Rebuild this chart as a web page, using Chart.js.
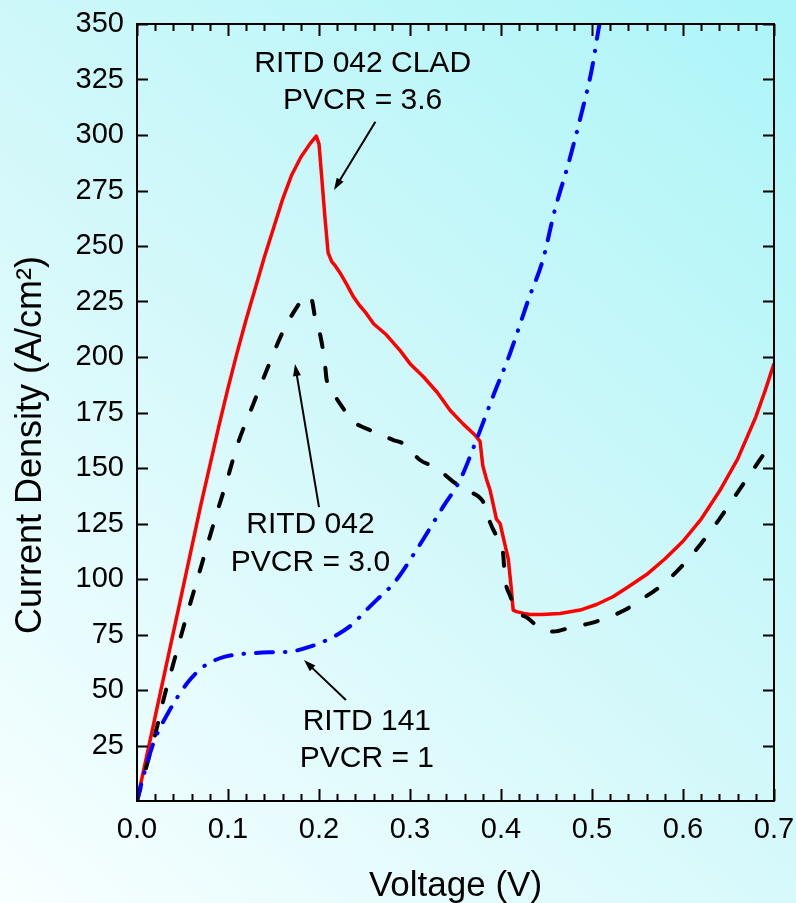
<!DOCTYPE html>
<html>
<head>
<meta charset="utf-8">
<script src="https://cdn.jsdelivr.net/npm/chart.js@4.4.1/dist/chart.umd.min.js"></script>
<style>
  html, body { margin: 0; padding: 0; overflow: hidden; background: #e2fafb; }
  #wrap { width: 796px; height: 903px; position: relative; }
</style>
</head>
<body>
<div id="wrap"><canvas id="c"></canvas></div>
<script>
// I-V curves of three resonant interband tunnel diodes
const voltageClad = [0, 0.01, 0.02, 0.03, 0.04, 0.05, 0.06, 0.07, 0.08, 0.09, 0.10, 0.11, 0.12, 0.13, 0.14, 0.15, 0.16, 0.17, 0.18, 0.19, 0.197, 0.200, 0.203, 0.2065, 0.210, 0.214, 0.218, 0.223, 0.230, 0.238, 0.245, 0.252, 0.260, 0.274, 0.289, 0.300, 0.315, 0.330, 0.344, 0.358, 0.371, 0.377, 0.380, 0.384, 0.388, 0.395, 0.399, 0.404, 0.408, 0.4115, 0.4134, 0.417, 0.425, 0.432, 0.445, 0.465, 0.487, 0.505, 0.523, 0.540, 0.560, 0.580, 0.600, 0.620, 0.640, 0.660, 0.680, 0.690, 0.700];
const currentClad = [0, 19, 38, 57, 76, 95, 114, 133, 151, 169, 186, 202, 217, 231, 245, 258, 271, 282, 290, 296, 299.5, 296, 281, 263, 247, 243, 241, 238, 233, 227, 223, 219.6, 215, 210, 203, 197, 191, 184, 176, 170, 165, 162, 151, 145, 140, 127, 125, 116, 109, 95, 86, 85.3, 84.5, 84, 84, 84.5, 86, 88.5, 92, 96.5, 102, 109, 117, 127, 139.5, 154, 173, 184.5, 197];

const voltage042 = [0, 0.01, 0.02, 0.029, 0.04, 0.055, 0.07, 0.085, 0.10, 0.11, 0.128, 0.1425, 0.161, 0.175, 0.182, 0.188, 0.192, 0.196, 0.201, 0.2065, 0.2083, 0.216, 0.223, 0.2376, 0.245, 0.26, 0.2816, 0.2925, 0.311, 0.329, 0.347, 0.362, 0.3823, 0.3877, 0.397, 0.4023, 0.4042, 0.4097, 0.4188, 0.4298, 0.4427, 0.4573, 0.4792, 0.4976, 0.5196, 0.536, 0.5561, 0.5745, 0.5946, 0.62, 0.64, 0.66, 0.68, 0.70];
const current042 = [0, 15, 30, 45.5, 62, 84, 105, 126, 146, 160, 179, 194, 212, 222, 226, 227.5, 226, 217, 210.6, 197, 190, 183.6, 179, 171, 169, 166.4, 162.6, 161, 153.6, 150, 144, 140, 133.3, 125.8, 117.6, 111.6, 101, 92.8, 85.3, 82.3, 77.8, 76.3, 78.5, 80, 83, 86, 91.3, 96.5, 104, 116, 127, 139, 151, 163];

const voltage141 = [0, 0.003, 0.018, 0.034, 0.055, 0.073, 0.091, 0.105, 0.124, 0.145, 0.168, 0.19, 0.216, 0.235, 0.252, 0.267, 0.282, 0.307, 0.3365, 0.355, 0.373, 0.391, 0.41, 0.43, 0.446, 0.459, 0.474, 0.4885, 0.4995, 0.508, 0.512];
const current141 = [0, 5, 26, 39.5, 53, 60.5, 64.3, 65.7, 66.5, 67, 67.3, 69.5, 74, 79, 86, 92, 98, 113, 132.6, 144.6, 162.6, 182, 201.7, 225.7, 243.7, 266, 287, 309.8, 329, 349.5, 358];

const xTicks = [0, 0.1, 0.2, 0.3, 0.4, 0.5, 0.6, 0.7];
const yTicks = [25, 50, 75, 100, 125, 150, 175, 200, 225, 250, 275, 300, 325, 350];

const noteText = [
  ['RITD 042 CLAD', 'PVCR = 3.6'],
  ['RITD 042', 'PVCR = 3.0'],
  ['RITD 141', 'PVCR = 1']
];

// annotation placement in data units (voltage, current density)
const noteAt = [[0.248, 328.5], [0.1906, 120.7], [0.2526, 32]];
const arrowFrom = [[0.262, 306], [0.2, 132.4], [0.2296, 45.5]];
const arrowTo = [[0.2164, 275.2], [0.1736, 196.8], [0.1834, 63.5]];

const FONT = "'Liberation Sans', Arial, Helvetica, sans-serif";

const toPoints = (xs, ys) => xs.map((v, i) => ({ x: v, y: ys[i] }));

// keep the plot frame fixed: no extra room reserved for overhanging end labels
const noOverhang = s => { s.paddingLeft = 0; s.paddingRight = 0; s.paddingTop = 0; s.paddingBottom = 0; };

const framePlugin = {
  id: 'frame',
  beforeDraw(chart) {
    const { ctx, width, height } = chart;
    const g = ctx.createLinearGradient(0, height, width, 0);
    g.addColorStop(0, '#f8ffff');
    g.addColorStop(0.5, '#d2f8fa');
    g.addColorStop(1, '#acf5f8');
    ctx.save();
    ctx.fillStyle = g;
    ctx.fillRect(0, 0, width, height);
    ctx.restore();
  },
  afterDraw(chart) {
    const { ctx, chartArea: a, scales } = chart;
    const xs = scales.x, ys = scales.y;
    ctx.save();
    ctx.strokeStyle = '#000000';
    ctx.lineWidth = 2;
    ctx.lineCap = 'butt';
    ctx.setLineDash([]);
    ctx.strokeRect(a.left, a.top, a.right - a.left, a.bottom - a.top);

    // inward tick marks: minor every 0.02 V on top and bottom, majors every 25 on both sides
    ctx.beginPath();
    for (let i = 0; i <= 35; i++) {
      const px = Math.round(xs.getPixelForValue(i * 0.02)) + 0.5;
      const len = i % 5 === 0 ? 12 : 7;
      ctx.moveTo(px, a.bottom); ctx.lineTo(px, a.bottom - len);
      ctx.moveTo(px, a.top); ctx.lineTo(px, a.top + len);
    }
    yTicks.forEach(v => {
      const py = Math.round(ys.getPixelForValue(v)) + 0.5;
      ctx.moveTo(a.left, py); ctx.lineTo(a.left + 11, py);
      ctx.moveTo(a.right, py); ctx.lineTo(a.right - 11, py);
    });
    ctx.stroke();

    // axis titles
    ctx.fillStyle = '#000000';
    ctx.textAlign = 'center';
    ctx.textBaseline = 'alphabetic';
    ctx.font = '35px ' + FONT;
    ctx.fillText('Voltage (V)', (a.left + a.right) / 2, 895.5);
    ctx.save();
    ctx.translate(41, 445);
    ctx.rotate(-Math.PI / 2);
    ctx.font = '36px ' + FONT;
    ctx.fillText('Current Density (A/cm\u00B2)', 0, 0);
    ctx.restore();

    // labels with arrows
    ctx.font = '30px ' + FONT;
    noteText.forEach((lines, k) => {
      const cx = xs.getPixelForValue(noteAt[k][0]);
      const cy = ys.getPixelForValue(noteAt[k][1]);
      lines.forEach((t, j) => ctx.fillText(t, cx, cy + j * 37.5));

      const x0 = xs.getPixelForValue(arrowFrom[k][0]), y0 = ys.getPixelForValue(arrowFrom[k][1]);
      const x1 = xs.getPixelForValue(arrowTo[k][0]), y1 = ys.getPixelForValue(arrowTo[k][1]);
      const ang = Math.atan2(y1 - y0, x1 - x0);
      const hl = 12, hw = 4;
      ctx.lineWidth = 2;
      ctx.beginPath();
      ctx.moveTo(x0, y0);
      ctx.lineTo(x1 - Math.cos(ang) * hl * 0.8, y1 - Math.sin(ang) * hl * 0.8);
      ctx.stroke();
      ctx.beginPath();
      ctx.moveTo(x1, y1);
      ctx.lineTo(x1 - Math.cos(ang) * hl - Math.sin(ang) * hw, y1 - Math.sin(ang) * hl + Math.cos(ang) * hw);
      ctx.lineTo(x1 - Math.cos(ang) * hl + Math.sin(ang) * hw, y1 - Math.sin(ang) * hl - Math.cos(ang) * hw);
      ctx.closePath();
      ctx.fill();
    });
    ctx.restore();
  }
};

new Chart(document.getElementById('c'), {
  type: 'line',
  data: {
    datasets: [
      {
        label: 'RITD 141',
        data: toPoints(voltage141, current141),
        borderColor: '#0000ff',
        borderWidth: 4,
        borderDash: [17, 12, 0.5, 12],
        borderCapStyle: 'round',
        cubicInterpolationMode: 'monotone',
        pointRadius: 0,
        fill: false
      },
      {
        label: 'RITD 042',
        data: toPoints(voltage042, current042),
        borderColor: '#000000',
        borderWidth: 4,
        borderDash: [13, 21],
        borderCapStyle: 'round',
        cubicInterpolationMode: 'monotone',
        pointRadius: 0,
        fill: false
      },
      {
        label: 'RITD 042 CLAD',
        data: toPoints(voltageClad, currentClad),
        borderColor: '#ff0000',
        borderWidth: 3.5,
        borderJoinStyle: 'round',
        tension: 0,
        pointRadius: 0,
        fill: false
      }
    ]
  },
  options: {
    responsive: true,
    maintainAspectRatio: false,
    animation: false,
    events: [],
    layout: { padding: { top: 24, right: 22, left: 0, bottom: 0 } },
    plugins: { legend: { display: false }, tooltip: { enabled: false } },
    scales: {
      x: {
        type: 'linear',
        min: 0,
        max: 0.7,
        afterFit: s => { s.height = 102; noOverhang(s); },
        afterBuildTicks: s => { s.ticks = xTicks.map(v => ({ value: v })); },
        grid: { display: false, drawTicks: false },
        border: { display: false },
        ticks: {
          autoSkip: false,
          maxRotation: 0,
          padding: 12,
          color: '#000',
          font: { family: FONT, size: 29 },
          callback: v => Number(v).toFixed(1)
        }
      },
      y: {
        type: 'linear',
        min: 0,
        max: 350,
        afterFit: s => { s.width = 137; noOverhang(s); },
        afterBuildTicks: s => { s.ticks = yTicks.map(v => ({ value: v })); },
        grid: { display: false, drawTicks: false },
        border: { display: false },
        ticks: {
          autoSkip: false,
          padding: 13,
          color: '#000',
          font: { family: FONT, size: 29 },
          callback: v => String(v)
        }
      }
    }
  },
  plugins: [framePlugin]
});
</script>
</body>
</html>
